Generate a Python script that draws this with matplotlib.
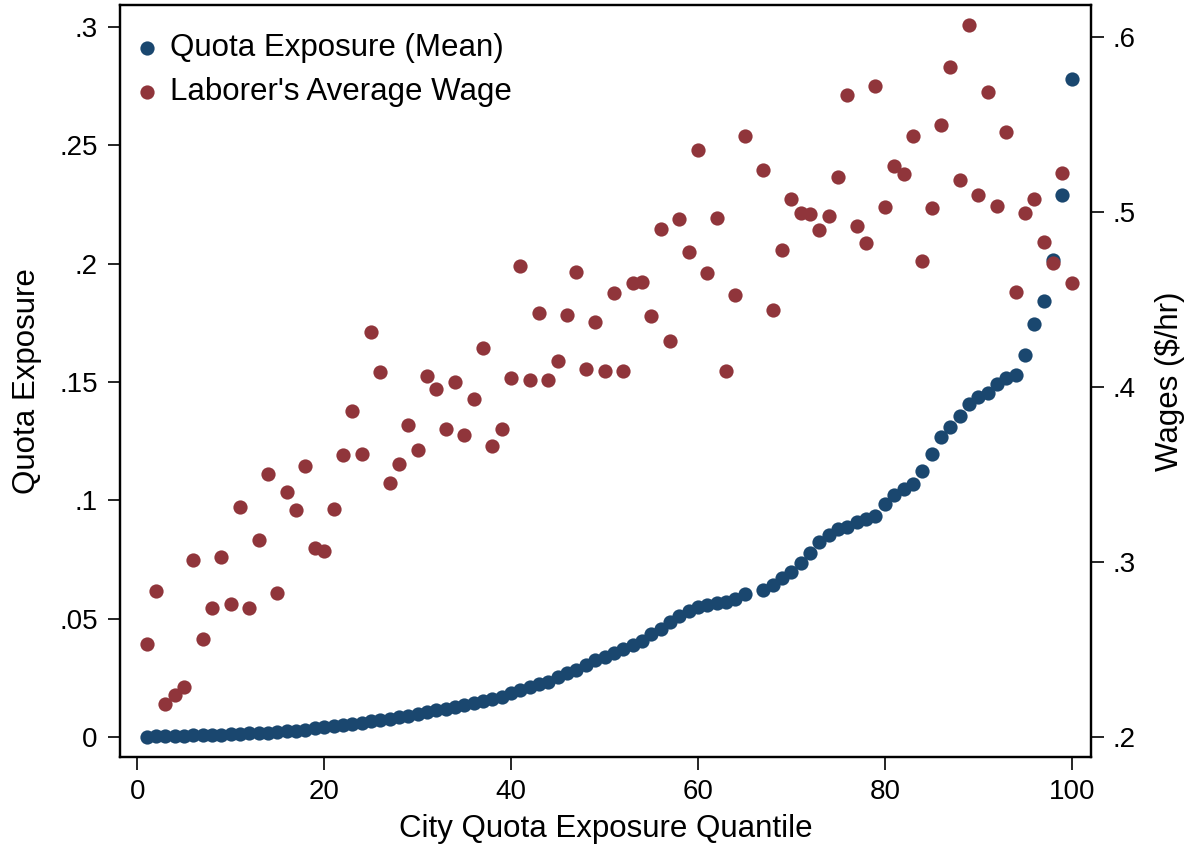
import matplotlib
matplotlib.use("Agg")
import matplotlib.pyplot as plt
import numpy as np

plt.rcParams['font.family'] = ['Liberation Sans', 'DejaVu Sans']

# city quota exposure quantile (1..100), quantile 66 has no data
quantile = np.arange(1, 101)

quota_mean = [
    0.0002, 0.0003, 0.0004, 0.0005, 0.0006, 0.0007, 0.0008, 0.0009, 0.0010, 0.0012,
    0.0013, 0.0015, 0.0017, 0.0019, 0.0021, 0.0024, 0.0027, 0.0031, 0.0036, 0.0042,
    0.0046, 0.0051, 0.0056, 0.0061, 0.0066, 0.0071, 0.0077, 0.0083, 0.0090, 0.0097,
    0.0104, 0.0112, 0.0120, 0.0128, 0.0137, 0.0145, 0.0153, 0.0162, 0.0171, 0.0184,
    0.0199, 0.0213, 0.0223, 0.0234, 0.0252, 0.0269, 0.0283, 0.0304, 0.0325, 0.0339,
    0.0356, 0.0370, 0.0389, 0.0406, 0.0435, 0.0455, 0.0485, 0.0511, 0.0534, 0.0551,
    0.0558, 0.0565, 0.0572, 0.0583, 0.0603, np.nan, 0.0621, 0.0642, 0.0670, 0.0698,
    0.0734, 0.0779, 0.0823, 0.0852, 0.0877, 0.0889, 0.0910, 0.0921, 0.0934, 0.0983,
    0.1023, 0.1048, 0.1069, 0.1125, 0.1196, 0.1266, 0.1311, 0.1356, 0.1407, 0.1438,
    0.1452, 0.1492, 0.1516, 0.1530, 0.1614, 0.1745, 0.1842, 0.2016, 0.2291, 0.2782,
]

avg_wage = [
    0.2531, 0.2834, 0.2189, 0.2238, 0.2284, 0.3011, 0.2558, 0.2739, 0.3030, 0.2760,
    0.3316, 0.2739, 0.3126, 0.3501, 0.2825, 0.3398, 0.3297, 0.3549, 0.3082, 0.3063,
    0.3301, 0.3611, 0.3863, 0.3615, 0.4313, 0.4086, 0.3450, 0.3560, 0.3781, 0.3640,
    0.4063, 0.3987, 0.3758, 0.4030, 0.3726, 0.3930, 0.4221, 0.3665, 0.3760, 0.4053,
    0.4693, 0.4040, 0.4425, 0.4040, 0.4147, 0.4410, 0.4659, 0.4101, 0.4371, 0.4093,
    0.4539, 0.4093, 0.4593, 0.4602, 0.4406, 0.4905, 0.4265, 0.4960, 0.4770, 0.5356,
    0.4653, 0.4964, 0.4090, 0.4526, 0.5434, np.nan, 0.5240, 0.4440, 0.4785, 0.5076,
    0.4996, 0.4989, 0.4899, 0.4975, 0.5200, 0.5669, 0.4922, 0.4825, 0.5722, 0.5029,
    0.5263, 0.5215, 0.5436, 0.4718, 0.5023, 0.5499, 0.5830, 0.5181, 0.6069, 0.5095,
    0.5686, 0.5034, 0.5457, 0.4545, 0.4993, 0.5074, 0.4827, 0.4710, 0.5225, 0.4596,
]

left_ticks = [0, 0.05, 0.1, 0.15, 0.2, 0.25, 0.3]
left_labels = ["0", ".05", ".1", ".15", ".2", ".25", ".3"]
right_ticks = [0.2, 0.3, 0.4, 0.5, 0.6]
right_labels = [".2", ".3", ".4", ".5", ".6"]
x_ticks = [0, 20, 40, 60, 80, 100]

blue = "#1a476f"
red = "#90353b"
msize = 105

fig = plt.figure(figsize=(11.9, 8.44), dpi=100)
ax = fig.add_axes([120 / 1190, 87 / 844, 970.7 / 1190, 752 / 844])
ax2 = ax.twinx()

ax.scatter(quantile, quota_mean, s=msize, color=blue, linewidths=0, zorder=3)
ax2.scatter(quantile, avg_wage, s=msize, color=red, linewidths=0, zorder=3)

ax.set_xlim(-1.85, 102.03)
ax.set_ylim(-0.00845, 0.3093)
ax2.set_ylim(0.18857, 0.6183)

ax.set_xticks(x_ticks)
ax.set_yticks(left_ticks)
ax.set_yticklabels(left_labels)
ax2.set_yticks(right_ticks)
ax2.set_yticklabels(right_labels)

for a in (ax, ax2):
    for sp in a.spines.values():
        sp.set_linewidth(1.6)
    a.tick_params(length=9, width=1.2, labelsize=20, pad=7)

ax.set_xlabel("City Quota Exposure Quantile", fontsize=22.5, labelpad=6)
ax.set_ylabel("Quota Exposure", fontsize=22.5, labelpad=12)
ax2.set_ylabel("Wages ($/hr)", fontsize=22.5, labelpad=14)

h1 = ax.scatter([], [], s=msize, color=blue, linewidths=0)
h2 = ax2.scatter([], [], s=msize, color=red, linewidths=0)
ax2.legend([h1, h2], ["Quota Exposure (Mean)", "Laborer's Average Wage"],
           loc="upper left", bbox_to_anchor=(-0.0144, 0.992), frameon=False,
           fontsize=22.5, handletextpad=0.15, labelspacing=0.45,
           borderaxespad=0.3, handlelength=1.2)

fig.savefig("out.png", dpi=100)
